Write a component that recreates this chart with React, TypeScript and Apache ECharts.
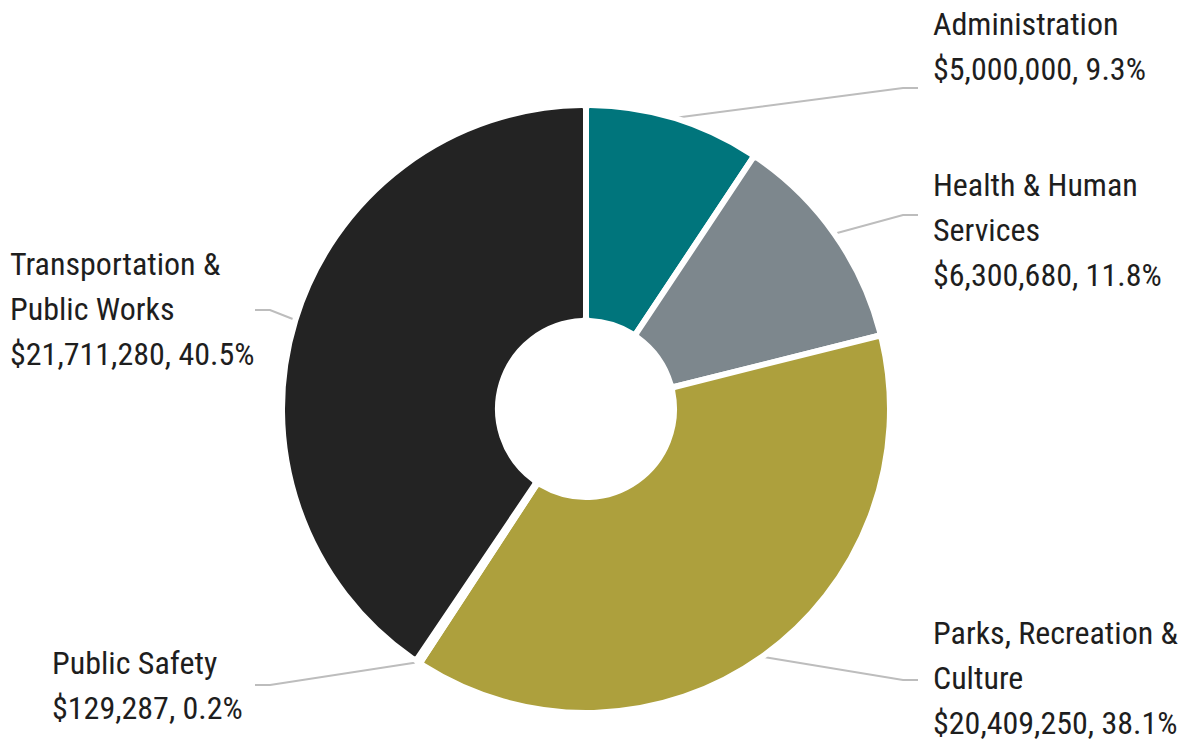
import React, { useEffect, useRef } from "react";
import * as echarts from "echarts";

const categories = [
  "Administration",
  "Health & Human\nServices",
  "Parks, Recreation &\nCulture",
  "Public Safety",
  "Transportation &\nPublic Works",
];
const values = [5000000, 6300680, 20409250, 129287, 21711280];
const colors = ["#00757C", "#7D878D", "#ADA03D", "#7D878D", "#232323"];

// label placement (text left x, text block middle y, connector end x / y)
const labelPlacement = [
  { side: "right", x: 933, y: 46, lineX: 918, lineY: 88 },
  { side: "right", x: 933, y: 230, lineX: 918, lineY: 215 },
  { side: "right", x: 933, y: 678, lineX: 918, lineY: 680 },
  { side: "left", x: 52, y: 685, lineX: 255, lineY: 685 },
  { side: "left", x: 10, y: 309, lineX: 255, lineY: 310 },
];

const total = values.reduce((a, b) => a + b, 0);
const fmt = (v: number) => "$" + v.toLocaleString("en-US");

export default function App() {
  const ref = useRef<HTMLDivElement>(null);
  useEffect(() => {
    if (!ref.current) return;
    const chart = echarts.init(ref.current, undefined, { renderer: "svg" });
    chart.setOption({
      animation: false,
      backgroundColor: "#ffffff",
      series: [
        {
          type: "pie",
          center: [586, 409],
          radius: [88, 304],
          startAngle: 90,
          clockwise: true,
          avoidLabelOverlap: false,
          itemStyle: { borderColor: "#ffffff", borderWidth: 6, borderRadius: 4 },
          label: {
            show: true,
            position: "outside",
            formatter: (p: any) =>
              `${p.name}\n${fmt(p.value)}, ${((p.value / total) * 100).toFixed(1)}%`,
            fontFamily: "Roboto Condensed",
            fontWeight: 400,
            fontSize: 32,
            lineHeight: 45,
            color: "#1e1e1e",
          },
          labelLine: {
            show: true,
            length: 20,
            length2: 15,
            lineStyle: { color: "#bdbdbd", width: 2 },
          },
          labelLayout: (params: any) => {
            const lp = labelPlacement[params.dataIndex];
            const pts = params.labelLinePoints;
            const start = pts ? pts[0] : [0, 0];
            const elbow =
              lp.side === "right" ? [lp.lineX - 15, lp.lineY] : [lp.lineX + 15, lp.lineY];
            const end = [lp.lineX, lp.lineY];
            return {
              x: lp.x,
              y: lp.y,
              align: "left",
              verticalAlign: "middle",
              labelLinePoints: [start, elbow, end],
            };
          },
          data: categories.map((name, i) => ({
            name,
            value: values[i],
            itemStyle: { color: colors[i] },
          })),
        },
      ],
    });
    return () => chart.dispose();
  }, []);
  return (
    <div
      ref={ref}
      style={{ position: "fixed", left: 0, top: 0, width: 1192, height: 743 }}
    />
  );
}
